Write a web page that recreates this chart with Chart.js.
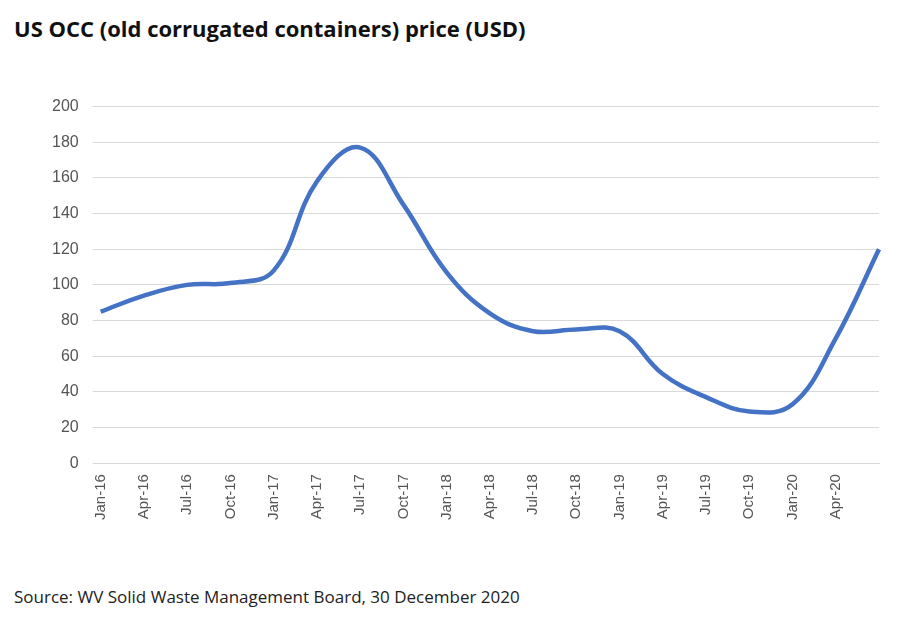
<!DOCTYPE html>
<html><head><meta charset="utf-8">
<script src="https://cdn.jsdelivr.net/npm/chart.js@4"></script>
<style>
body{margin:0;background:#fff;font-family:"Open Sans",sans-serif;}
#t{position:absolute;left:14px;top:13px;font-size:22px;font-weight:bold;color:#111;}
#s{position:absolute;left:14px;top:585px;font-size:17px;color:#222;}
#w{position:absolute;left:38px;top:83px;width:862px;height:440px;}
</style></head><body>
<div id="t">US OCC (old corrugated containers) price (USD)</div>
<div id="w"><canvas id="c"></canvas></div>
<div id="s">Source: WV Solid Waste Management Board, 30 December 2020</div>
<script>
const labels=["Jan-16","Apr-16","Jul-16","Oct-16","Jan-17","Apr-17","Jul-17","Oct-17","Jan-18","Apr-18","Jul-18","Oct-18","Jan-19","Apr-19","Jul-19","Oct-19","Jan-20","Apr-20","Jul-20"];
const prices=[85,94,100,101,108,158,177,145,107,84,74,75,74,50,37,29,33,70,120];
new Chart(document.getElementById('c'),{type:'line',
data:{labels:labels,datasets:[{data:prices,borderColor:'#4472C4',borderWidth:4.5,pointRadius:0,tension:0.4}]},
options:{responsive:true,maintainAspectRatio:false,animation:false,
plugins:{legend:{display:false},tooltip:{enabled:false}},
layout:{padding:{right:4}},
scales:{
x:{offset:false,grid:{display:false},border:{color:'#d9d9d9'},
ticks:{color:'#555',font:{size:15},maxRotation:90,minRotation:90,autoSkip:false,
callback:function(v,i){return i===labels.length-1?'':labels[i];}}},
y:{min:0,max:200,ticks:{stepSize:20,color:'#555',font:{size:16},padding:14},
grid:{color:'#d9d9d9'},border:{display:false}}}}});
</script></body></html>
